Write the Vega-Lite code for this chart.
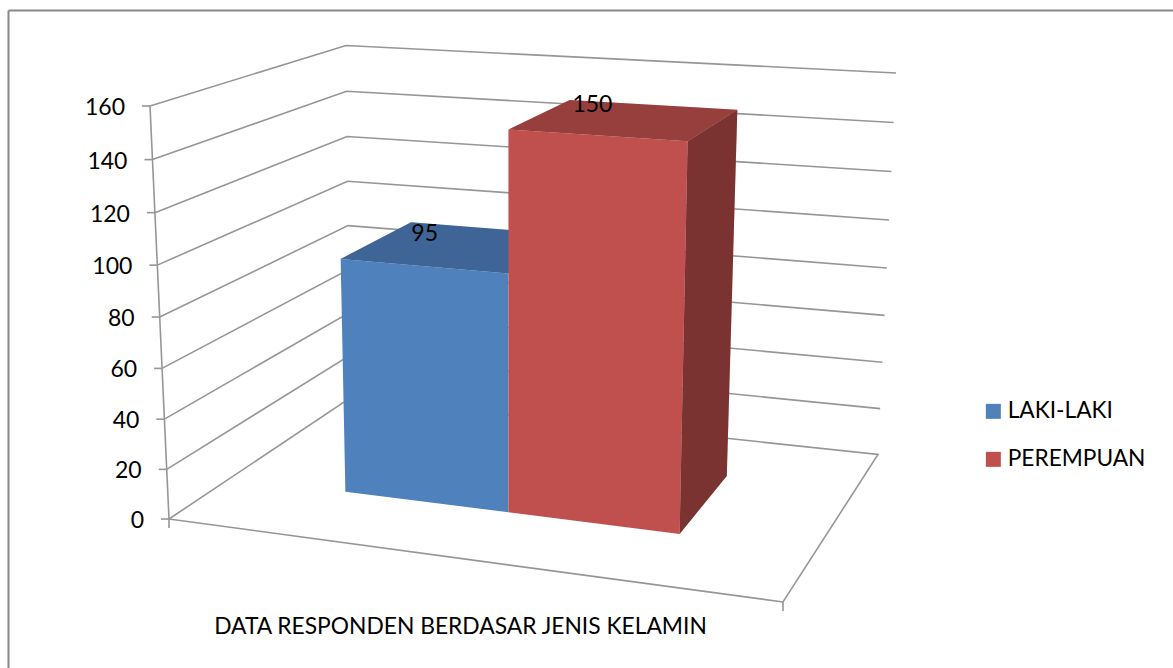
{
"$schema":"https://vega.github.io/schema/vega-lite/v6.json",
"width":1165,"height":658,"autosize":"none",
"padding":{"left":8,"top":10,"right":0,"bottom":0},
"background":"white",
"config":{"view":{"stroke":null},"font":"Lato"},
"datasets":{
"bars":[{"series":"LAKI-LAKI","value":95},{"series":"PEREMPUAN","value":150}],
"ticks":[{"tick":0},{"tick":20},{"tick":40},{"tick":60},{"tick":80},{"tick":100},{"tick":120},{"tick":140},{"tick":160}],
"corners":[{"side":"left"},{"side":"right"}],
"walls":[
{"line":"t20","tick":[20,20,20],"side":["left","left","right"],"depth":["front","back","back"],"order":[0,1,2]},
{"line":"t40","tick":[40,40,40],"side":["left","left","right"],"depth":["front","back","back"],"order":[0,1,2]},
{"line":"t60","tick":[60,60,60],"side":["left","left","right"],"depth":["front","back","back"],"order":[0,1,2]},
{"line":"t80","tick":[80,80,80],"side":["left","left","right"],"depth":["front","back","back"],"order":[0,1,2]},
{"line":"t100","tick":[100,100,100],"side":["left","left","right"],"depth":["front","back","back"],"order":[0,1,2]},
{"line":"t120","tick":[120,120,120],"side":["left","left","right"],"depth":["front","back","back"],"order":[0,1,2]},
{"line":"t140","tick":[140,140,140],"side":["left","left","right"],"depth":["front","back","back"],"order":[0,1,2]},
{"line":"t160","tick":[160,160,160],"side":["left","left","right"],"depth":["front","back","back"],"order":[0,1,2]},
{"line":"floor","tick":[0,0,0,0,0],"side":["left","left","right","right","left"],"depth":["front","back","back","front","front"],"order":[0,1,2,3,4]},
{"line":"axis","tick":[0,160],"side":["left","left"],"depth":["front","front"],"order":[0,1]}
],
"faces":[
{"series":"LAKI-LAKI","face":"top","side":["left","right","right","left"],"depth":["front","front","back","back"],"level":["top","top","top","top"],"order":[0,1,2,3]},
{"series":"LAKI-LAKI","face":"front","side":["left","right","right","left"],"depth":["front","front","front","front"],"level":["top","top","base","base"],"order":[0,1,2,3]},
{"series":"PEREMPUAN","face":"top","side":["left","right","right","left"],"depth":["front","front","back","back"],"level":["top","top","top","top"],"order":[0,1,2,3]},
{"series":"PEREMPUAN","face":"front","side":["left","right","right","left"],"depth":["front","front","front","front"],"level":["top","top","base","base"],"order":[0,1,2,3]},
{"series":"PEREMPUAN","face":"side","side":["right","right","right","right"],"depth":["front","back","back","front"],"level":["top","top","base","base"],"order":[0,1,2,3]}
]
},
"encoding":{
"x":{"field":"sx","type":"quantitative","scale":{"domain":[8,1173],"nice":false,"zero":false},
 "axis":{"orient":"top","title":"DATA RESPONDEN BERDASAR JENIS KELAMIN","titleFontWeight":"normal","titleFontSize":22.8,"titleColor":"black","titleFont":"Lato","titleX":452,"titleY":623,"titleAnchor":"middle","titleBaseline":"alphabetic","labels":false,"ticks":false,"grid":false,"domainColor":"#888888","domainWidth":2}},
"y":{"field":"sy","type":"quantitative","scale":{"domain":[668,10],"nice":false,"zero":false},
 "axis":{"orient":"left","title":null,"labels":false,"ticks":false,"grid":false,"domainColor":"#888888","domainWidth":2}}
},
"layer":[
{"data":{"name":"walls"},
 "transform":[{"flatten":["tick","side","depth","order"]},
 {"calculate":"datum.side=='right'?1:0","as":"u"},{"calculate":"datum.depth=='back'?1:0","as":"d"},{"calculate":"datum.tick/160-0.044*(datum.tick/160)*(1-datum.tick/160)","as":"v"},
 {"calculate":"(1-datum.v)*((1-datum.d)*((1-datum.u)*169+datum.u*783)+datum.d*((1-datum.u)*350+datum.u*878))+datum.v*((1-datum.d)*((1-datum.u)*150+datum.u*797)+datum.d*((1-datum.u)*346+datum.u*896))","as":"sx"},
 {"calculate":"(1-datum.v)*((1-datum.d)*((1-datum.u)*519+datum.u*602)+datum.d*((1-datum.u)*398+datum.u*454.5))+datum.v*((1-datum.d)*((1-datum.u)*106+datum.u*149)+datum.d*((1-datum.u)*45.5+datum.u*73))","as":"sy"}],
 "mark":{"type":"line","stroke":"#969696","strokeWidth":1.6},
 "encoding":{"detail":{"field":"line"},"order":{"field":"order","type":"quantitative"}}},
{"data":{"name":"ticks"},
 "transform":[{"calculate":"datum.tick/160-0.044*(datum.tick/160)*(1-datum.tick/160)","as":"v"},
 {"calculate":"(1-datum.v)*169+datum.v*150","as":"sx"},{"calculate":"(1-datum.v)*519+datum.v*106","as":"sy"},{"calculate":"datum.sx-8","as":"sx2"}],
 "mark":{"type":"rule","stroke":"#969696","strokeWidth":1.6},
 "encoding":{"x2":{"field":"sx2"}}},
{"data":{"name":"corners"},
 "transform":[{"calculate":"datum.side=='right'?783:169","as":"sx"},{"calculate":"datum.side=='right'?602:519","as":"sy"},{"calculate":"datum.sy+9","as":"sy2"}],
 "mark":{"type":"rule","stroke":"#969696","strokeWidth":1.6},
 "encoding":{"y2":{"field":"sy2"}}},
{"data":{"name":"ticks"},
 "transform":[{"calculate":"datum.tick/160-0.044*(datum.tick/160)*(1-datum.tick/160)","as":"v"},
 {"calculate":"(1-datum.v)*169+datum.v*150","as":"sx"},{"calculate":"(1-datum.v)*519+datum.v*106","as":"sy"}],
 "mark":{"type":"text","align":"right","baseline":"middle","dx":-25,"dy":2,"fontSize":23,"font":"Lato","color":"black"},
 "encoding":{"text":{"field":"tick","type":"quantitative"}}},
{"data":{"name":"faces"},
 "transform":[{"flatten":["side","depth","level","order"]},
 {"lookup":"series","from":{"data":{"name":"bars"},"key":"series","fields":["value"]}},
 {"calculate":"[0.195,0.474,0.767][indexof(['LAKI-LAKI','PEREMPUAN'],datum.series)+(datum.side=='right'?1:0)]","as":"u"},
 {"calculate":"datum.depth=='back'?0.755:0.345","as":"d"},{"calculate":"datum.level=='top'?datum.value/160-0.044*(datum.value/160)*(1-datum.value/160):0","as":"v"},
 {"calculate":"(1-datum.v)*((1-datum.d)*((1-datum.u)*169+datum.u*783)+datum.d*((1-datum.u)*350+datum.u*878))+datum.v*((1-datum.d)*((1-datum.u)*150+datum.u*797)+datum.d*((1-datum.u)*346+datum.u*896))","as":"sx"},
 {"calculate":"(1-datum.v)*((1-datum.d)*((1-datum.u)*519+datum.u*602)+datum.d*((1-datum.u)*398+datum.u*454.5))+datum.v*((1-datum.d)*((1-datum.u)*106+datum.u*149)+datum.d*((1-datum.u)*45.5+datum.u*73))","as":"sy"},
 {"calculate":"datum.face=='top'?0.21:(datum.face=='side'?0.36:0)","as":"shade"}],
 "layer":[
  {"transform":[{"filter":"datum.series=='LAKI-LAKI'"}],
   "mark":{"type":"line","strokeWidth":0,"stroke":null},
   "encoding":{"fill":{"field":"series","type":"nominal","scale":{"domain":["LAKI-LAKI","PEREMPUAN"],"range":["#4f81bd","#c0504d"]},
     "legend":{"title":null,"orient":"none","legendX":974,"legendY":390,"symbolType":"square","symbolSize":225,"symbolStrokeWidth":0,"labelFontSize":22.7,"labelFont":"Lato","labelColor":"black","rowPadding":24,"labelOffset":3}},
    "detail":{"field":"face"},"order":{"field":"order","type":"quantitative"}}},
  {"transform":[{"filter":"datum.series=='LAKI-LAKI'"}],
   "mark":{"type":"line","strokeWidth":0,"stroke":null,"fill":"black"},
   "encoding":{"fillOpacity":{"field":"shade","type":"quantitative","scale":null},"detail":{"field":"face"},"order":{"field":"order","type":"quantitative"}}},
  {"transform":[{"filter":"datum.series=='PEREMPUAN'"}],
   "mark":{"type":"line","strokeWidth":0,"stroke":null},
   "encoding":{"fill":{"field":"series","type":"nominal"},
    "detail":{"field":"face"},"order":{"field":"order","type":"quantitative"}}},
  {"transform":[{"filter":"datum.series=='PEREMPUAN'"}],
   "mark":{"type":"line","strokeWidth":0,"stroke":null,"fill":"black"},
   "encoding":{"fillOpacity":{"field":"shade","type":"quantitative","scale":null},"detail":{"field":"face"},"order":{"field":"order","type":"quantitative"}}}
 ]},
{"data":{"name":"bars"},
 "transform":[
 {"calculate":"[0.195,0.474][indexof(['LAKI-LAKI','PEREMPUAN'],datum.series)]","as":"u"},
 {"calculate":"datum.value/160-0.044*(datum.value/160)*(1-datum.value/160)","as":"v"},{"calculate":"0.345","as":"d"},
 {"calculate":"(1-datum.v)*((1-datum.d)*((1-datum.u)*169+datum.u*783)+datum.d*((1-datum.u)*350+datum.u*878))+datum.v*((1-datum.d)*((1-datum.u)*150+datum.u*797)+datum.d*((1-datum.u)*346+datum.u*896))","as":"sx"},
 {"calculate":"(1-datum.v)*((1-datum.d)*((1-datum.u)*519+datum.u*602)+datum.d*((1-datum.u)*398+datum.u*454.5))+datum.v*((1-datum.d)*((1-datum.u)*106+datum.u*149)+datum.d*((1-datum.u)*45.5+datum.u*73))","as":"sy"}],
 "mark":{"type":"text","align":"center","baseline":"middle","dx":84,"dy":-25,"fontSize":23,"font":"Lato","color":"black"},
 "encoding":{"text":{"field":"value","type":"quantitative"}}}
]
}
